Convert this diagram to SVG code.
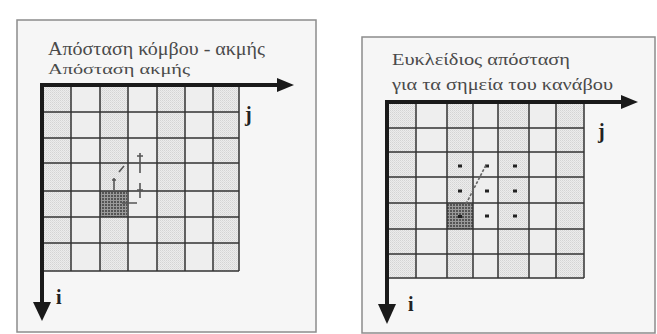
<svg xmlns="http://www.w3.org/2000/svg" width="657" height="334" viewBox="0 0 657 334">
<defs>
<pattern id="dith" width="2" height="2" patternUnits="userSpaceOnUse">
<rect width="2" height="2" fill="#ececec"/>
<rect width="1" height="1" fill="#d4d4d4"/>
<rect x="1" y="1" width="1" height="1" fill="#dedede"/>
</pattern>
<pattern id="dark" width="3" height="3" patternUnits="userSpaceOnUse">
<rect width="3" height="3" fill="#9a9a9a"/>
<rect width="2" height="2" fill="#555"/>
</pattern>
</defs>
<style>
.frame{fill:#f6f6f6;stroke:#8c8c8c;stroke-width:1.5}
.cd{fill:url(#dith)}
.cl{fill:#eeeeee}
.grid{stroke:#333;stroke-width:1.5;fill:none}
.axis{stroke:#1a1a1a;stroke-width:4;fill:none}
.head{fill:#1a1a1a}
.t{font-family:"Liberation Serif","DejaVu Serif",serif;fill:#4a4a4a}
.lab{font-family:"Liberation Serif","DejaVu Serif",serif;font-weight:bold;fill:#222;font-size:20px}
.mk{stroke:#555;stroke-width:1.6;fill:none}
.dot{fill:#222}
</style>
<rect width="657" height="334" fill="#ffffff"/>

<g id="panel-left">
<rect class="frame" x="17" y="20" width="299" height="312"/>
<text class="t" x="48" y="55" font-size="19" textLength="217" lengthAdjust="spacingAndGlyphs">Απόσταση κόμβου - ακμής</text>
<text class="t" x="48" y="74" font-size="15" textLength="142" lengthAdjust="spacingAndGlyphs">Απόσταση ακμής</text>
<g id="grid-left">
<rect class="cd" x="42" y="85" width="29" height="186"/>
<rect class="cl" x="71" y="85" width="29" height="186"/>
<rect class="cd" x="100" y="85" width="28" height="186"/>
<rect class="cl" x="128" y="85" width="29" height="186"/>
<rect class="cd" x="157" y="85" width="28" height="186"/>
<rect class="cl" x="185" y="85" width="28" height="186"/>
<rect class="cd" x="213" y="85" width="26" height="186"/>
<rect x="100" y="191" width="27" height="26" fill="url(#dark)"/>
<path class="grid" d="M71 85V271M100 85V271M128 85V271M157 85V271M185 85V271M213 85V271M239 85V271M42 112H239M42 138H239M42 163H239M42 191H239M42 217H239M42 243H239M42 271H239"/>
</g>
<g id="marks-left">
<path class="mk" d="M140 153V173M137 156H143M140 183V198M137 190H143M119 172L124 166M114 178V190M112 180H116M122 203H137"/>
</g>
<text class="lab" x="245" y="121">j</text>
<text class="lab" x="56" y="304">i</text>
</g>

<g id="panel-right">
<rect class="frame" x="362" y="37" width="293" height="296"/>
<text class="t" x="392" y="65" font-size="16" textLength="178" lengthAdjust="spacingAndGlyphs">Ευκλείδιος απόσταση</text>
<text class="t" x="392" y="90" font-size="16" textLength="221" lengthAdjust="spacingAndGlyphs">για τα σημεία του κανάβου</text>
<g id="grid-right">
<rect class="cd" x="387" y="102" width="29" height="176"/>
<rect class="cl" x="416" y="102" width="31" height="176"/>
<rect class="cd" x="447" y="102" width="26" height="176"/>
<rect class="cl" x="473" y="102" width="25" height="176"/>
<rect class="cd" x="498" y="102" width="31" height="176"/>
<rect class="cl" x="529" y="102" width="27" height="176"/>
<rect class="cd" x="556" y="102" width="28" height="176"/>
<rect x="447" y="203" width="26" height="26" fill="url(#dark)"/>
<path class="grid" d="M416 102V278M447 102V278M473 102V278M498 102V278M529 102V278M556 102V278M584 102V278M387 128H584M387 152H584M387 177H584M387 203H584M387 229H584M387 254H584M387 278H584"/>
</g>
<g id="dots-right">
<rect class="dot" x="458" y="164.5" width="4" height="3"/>
<rect class="dot" x="485" y="164.5" width="4" height="3"/>
<rect class="dot" x="513" y="164.5" width="4" height="3"/>
<rect class="dot" x="458" y="189.5" width="4" height="3"/>
<rect class="dot" x="485" y="189.5" width="4" height="3"/>
<rect class="dot" x="513" y="189.5" width="4" height="3"/>
<rect class="dot" x="458" y="215" width="4" height="3"/>
<rect class="dot" x="485" y="214.5" width="4" height="3"/>
<rect class="dot" x="513" y="214.5" width="4" height="3"/>
<path d="M466 204L486 165" stroke="#666" stroke-width="1.6" stroke-dasharray="3 1.5" fill="none"/>
</g>
<text class="lab" x="598" y="138">j</text>
<text class="lab" x="408" y="311">i</text>
</g>

<g id="connectors">
<path class="axis" d="M40 85H280"/>
<path class="head" d="M277 78L294 85L277 92Z"/>
<path class="axis" d="M42 83V305"/>
<path class="head" d="M33 302L42 321L51 302Z"/>
<path class="axis" d="M385 102H624"/>
<path class="head" d="M621 95L638 102L621 109Z"/>
<path class="axis" d="M387 100V307"/>
<path class="head" d="M378 304L387 324L396 304Z"/>
</g>
</svg>
